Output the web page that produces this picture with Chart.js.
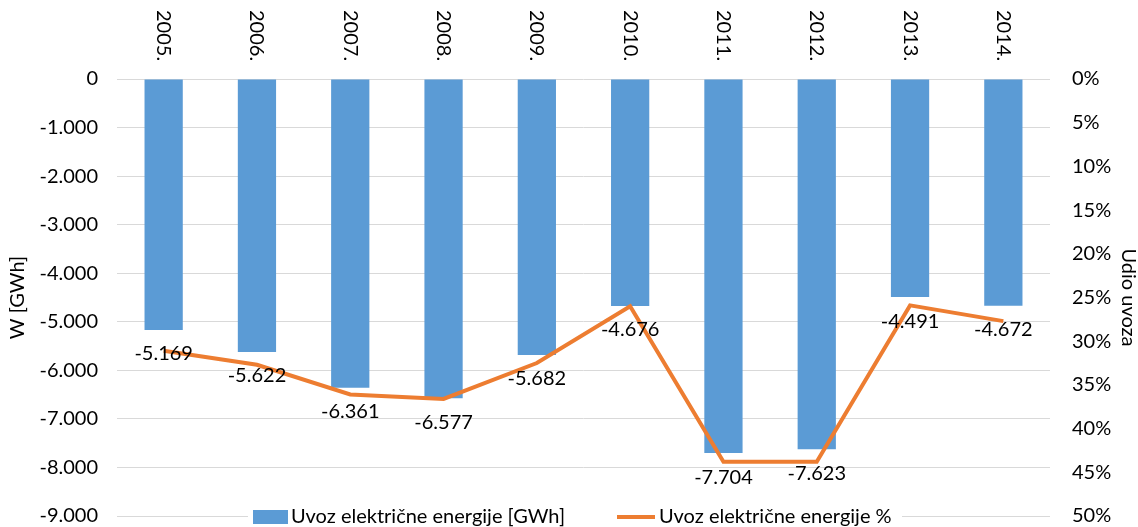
<!DOCTYPE html>
<html>
<head>
<meta charset="utf-8">
<title>Uvoz električne energije</title>
<script src="https://cdn.jsdelivr.net/npm/chart.js"></script>
<style>
  body { margin: 0; background: #fff; }
  #wrap { width: 1138px; height: 527px; }
</style>
</head>
<body>
<div id="wrap"><canvas id="chart" width="1138" height="527"></canvas></div>
<script>
const years = ['2005.', '2006.', '2007.', '2008.', '2009.', '2010.', '2011.', '2012.', '2013.', '2014.'];
const uvozGWh = [-5169, -5622, -6361, -6577, -5682, -4676, -7704, -7623, -4491, -4672];
const udioUvoza = [0.311, 0.327, 0.361, 0.366, 0.325, 0.260, 0.438, 0.438, 0.259, 0.277];
const gwhTicks = [0, -1000, -2000, -3000, -4000, -5000, -6000, -7000, -8000, -9000];
const pctTicks = [0, 0.05, 0.1, 0.15, 0.2, 0.25, 0.3, 0.35, 0.4, 0.45, 0.5];

const FONT = 'Lato, "Liberation Sans", sans-serif';
const BLUE = '#5B9BD5';
const ORANGE = '#ED7D31';

// 5169 -> "5.169"
function fmt(v) {
  const s = Math.abs(Math.round(v)).toString().replace(/\B(?=(\d{3})+(?!\d))/g, '.');
  return (v < 0 ? '-' : '') + s;
}

// godine okrenute okomito iznad stupaca
const yearLabels = {
  id: 'yearLabels',
  afterDraw(chart) {
    const ctx = chart.ctx;
    const xs = chart.scales.x;
    ctx.save();
    ctx.font = '20px ' + FONT;
    ctx.fillStyle = '#000';
    ctx.textAlign = 'left';
    ctx.textBaseline = 'middle';
    years.forEach((y, i) => {
      ctx.save();
      ctx.translate(xs.getPixelForValue(i), 10);
      ctx.rotate(Math.PI / 2);
      ctx.fillText(y, 0, 0);
      ctx.restore();
    });
    ctx.restore();
  }
};

// vrijednosti ispod kraja stupca
const barValues = {
  id: 'barValues',
  afterDatasetsDraw(chart) {
    const ctx = chart.ctx;
    const meta = chart.getDatasetMeta(0);
    ctx.save();
    ctx.font = '20px ' + FONT;
    ctx.fillStyle = '#000';
    ctx.textAlign = 'center';
    ctx.textBaseline = 'middle';
    meta.data.forEach((bar, i) => {
      ctx.fillText(fmt(uvozGWh[i]), bar.x, bar.y + 24);
    });
    ctx.restore();
  }
};

// legenda preko donje linije mreže
const legendBox = {
  id: 'legendBox',
  afterDraw(chart) {
    const ctx = chart.ctx;
    ctx.save();
    ctx.fillStyle = '#fff';
    ctx.fillRect(248, 506, 654, 21);
    ctx.font = '20px ' + FONT;
    ctx.textBaseline = 'middle';
    ctx.textAlign = 'left';
    ctx.fillStyle = BLUE;
    ctx.fillRect(253, 510, 35, 14);
    ctx.fillStyle = '#000';
    ctx.fillText('Uvoz električne energije [GWh]', 291, 517);
    ctx.strokeStyle = ORANGE;
    ctx.lineWidth = 4;
    ctx.beginPath();
    ctx.moveTo(617, 517);
    ctx.lineTo(655, 517);
    ctx.stroke();
    ctx.fillText('Uvoz električne energije %', 659, 517);
    ctx.restore();
  }
};

new Chart(document.getElementById('chart'), {
  type: 'bar',
  data: {
    labels: years,
    datasets: [
      {
        type: 'bar',
        label: 'Uvoz električne energije [GWh]',
        data: uvozGWh,
        backgroundColor: BLUE,
        categoryPercentage: 1,
        barPercentage: 0.41,
        yAxisID: 'y',
        order: 1
      },
      {
        type: 'line',
        label: 'Uvoz električne energije %',
        data: udioUvoza,
        borderColor: ORANGE,
        backgroundColor: ORANGE,
        borderWidth: 4,
        pointRadius: 0,
        tension: 0,
        fill: false,
        yAxisID: 'y1',
        order: 0
      }
    ]
  },
  options: {
    responsive: false,
    animation: false,
    layout: { padding: { top: 0, bottom: 11, left: 0, right: 0 } },
    plugins: {
      legend: { display: false },
      tooltip: { enabled: false }
    },
    scales: {
      x: {
        position: 'top',
        ticks: { display: false },
        grid: { display: false },
        border: { display: false },
        afterFit(s) { s.height = 79; }
      },
      y: {
        position: 'left',
        min: -9000,
        max: 0,
        afterBuildTicks(s) { s.ticks = gwhTicks.map(v => ({ value: v })); },
        ticks: {
          callback: v => fmt(v),
          color: '#000',
          padding: 19,
          font: { family: FONT, size: 20 }
        },
        grid: { color: '#D9D9D9', lineWidth: 1, drawTicks: false },
        border: { display: false },
        title: {
          display: true,
          text: 'W [GWh]',
          color: '#000',
          padding: { top: 6, bottom: 0 },
          font: { family: FONT, size: 20 }
        },
        afterFit(s) { s.width = 117; s.paddingTop = 0; s.paddingBottom = 0; }
      },
      y1: {
        position: 'right',
        min: 0,
        max: 0.5,
        reverse: true,
        afterBuildTicks(s) { s.ticks = pctTicks.map(v => ({ value: v })); },
        ticks: {
          callback: v => Math.round(v * 100) + '%',
          color: '#000',
          padding: 22,
          font: { family: FONT, size: 20 }
        },
        grid: { display: false, drawTicks: false },
        border: { display: false },
        title: {
          display: true,
          text: 'Udio uvoza',
          color: '#000',
          padding: { top: 0, bottom: 0 },
          font: { family: FONT, size: 20, lineHeight: 1 }
        },
        afterFit(s) { s.width = 88; s.paddingTop = 0; s.paddingBottom = 0; }
      }
    }
  },
  plugins: [yearLabels, barValues, legendBox]
});
</script>
</body>
</html>
